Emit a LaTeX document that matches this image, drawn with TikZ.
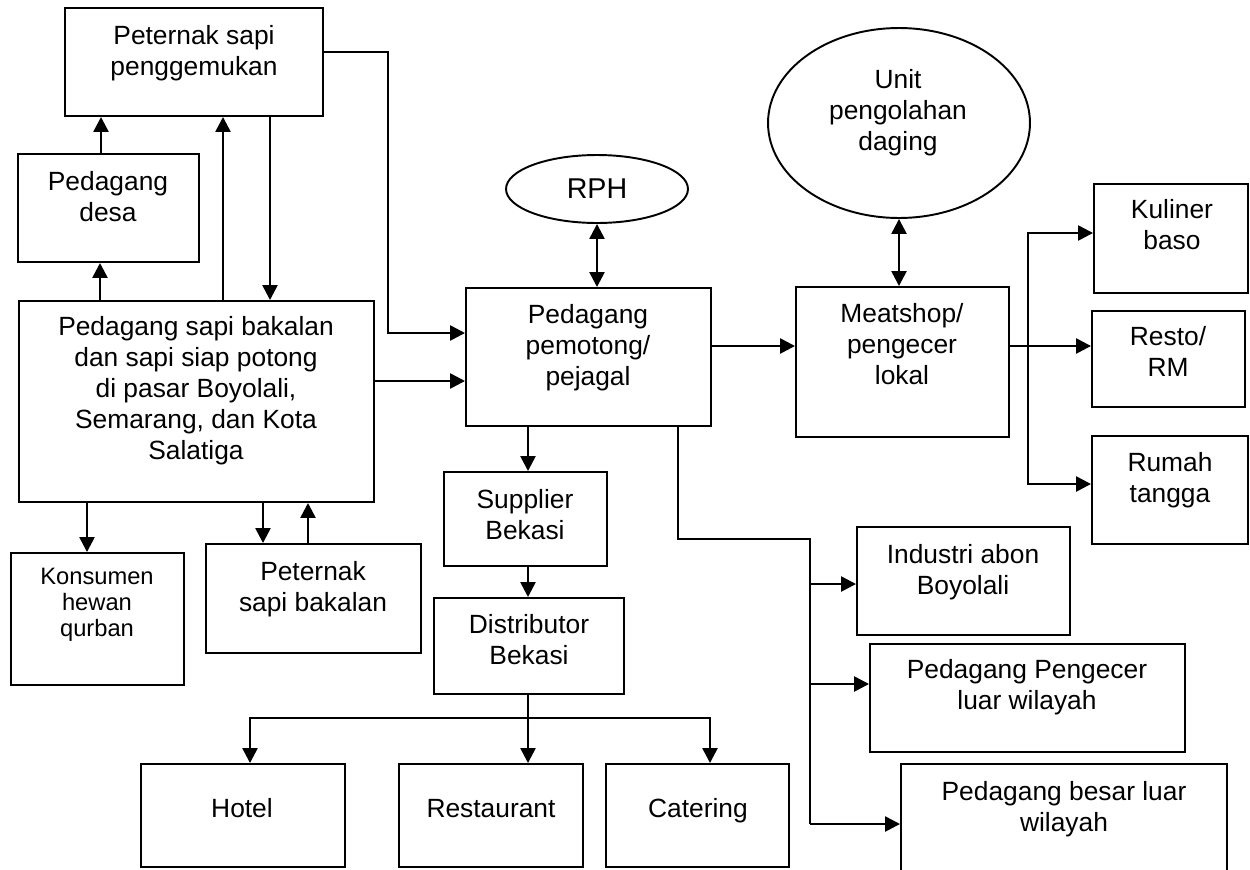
\documentclass[tikz,border=0pt]{standalone}
\usepackage{fontspec}
\setmainfont{Liberation Sans}
\usetikzlibrary{arrows.meta,fit,shapes.geometric}
\begin{document}
\begin{tikzpicture}[x=0.02cm,y=-0.02cm,
  box/.style={draw, line width=1.1pt, inner sep=0pt},
  oval/.style={draw, ellipse, line width=1.1pt, inner sep=0pt},
  txt/.style={align=center, inner sep=0pt, anchor=north, font=\fontsize{15}{17.6}\selectfont},
  small/.style={align=center, inner sep=0pt, anchor=north, font=\fontsize{13.5}{14.7}\selectfont},
  one/.style={inner sep=0pt, anchor=base, font=\fontsize{15}{17.6}\selectfont},
  ln/.style={line width=1.4pt},
  arr/.style={line width=1.4pt, -{Triangle[length=8.5pt,width=8.5pt]}},
  darr/.style={line width=1.4pt, {Triangle[length=8.5pt,width=8.5pt]}-{Triangle[length=8.5pt,width=8.5pt]}}]
\useasboundingbox (0,0) rectangle (1250,869);
\clip (0,0) rectangle (1250,869);

% boxes
\node[box, fit={(65,8) (323,116)}] (psp) {};
\node[box, fit={(18,154) (199,262)}] (pd) {};
\node[box, fit={(19,301) (374,502)}] (psb) {};
\node[box, fit={(11,553) (184,685)}] (khq) {};
\node[box, fit={(206,544) (421,653)}] (psbk) {};
\node[box, fit={(466,288) (711,426)}] (pp) {};
\node[oval, minimum width=3.64cm, minimum height=1.36cm] (rph) at (597,189) {};
\node[box, fit={(444,472) (607,566)}] (sup) {};
\node[box, fit={(434,598) (624,694)}] (dist) {};
\node[box, fit={(141,764) (345,867)}] (hotel) {};
\node[box, fit={(399,764) (583,867)}] (rest) {};
\node[box, fit={(606,764) (789,867)}] (cat) {};
\node[oval, minimum width=5.24cm, minimum height=3.8cm] (unit) at (899,123) {};
\node[box, fit={(796,287) (1009,437)}] (meat) {};
\node[box, fit={(1094,184) (1248,293)}] (kul) {};
\node[box, fit={(1092,311) (1245,407)}] (resto) {};
\node[box, fit={(1092,436) (1248,544)}] (rumah) {};
\node[box, fit={(857,527) (1070,635)}] (abon) {};
\node[box, fit={(870,644) (1185,752)}] (ecer) {};
\node[box, fit={(901,764) (1227,900)}] (besar) {};

% texts
\node[txt] (tpsp) at (194,25) {Peternak sapi\\penggemukan};
\node[txt] (tpd) at (108,171) {Pedagang\\desa};
\node[txt] (tpsb) at (196,316) {Pedagang sapi bakalan\\dan sapi siap potong\\di pasar Boyolali,\\Semarang, dan Kota\\Salatiga};
\node[small] (tkhq) at (97,568) {Konsumen\\hewan\\qurban};
\node[txt] (tpsbk) at (313,561) {Peternak\\sapi bakalan};
\node[txt] (tpp) at (588,304) {Pedagang\\pemotong/\\pejagal};
\node[inner sep=0pt, font=\fontsize{16.3}{19}\selectfont] (trph) at (rph.center) {RPH};
\node[txt] (tsup) at (525,489) {Supplier\\Bekasi};
\node[txt] (tdist) at (529,614) {Distributor\\Bekasi};
\node[one] (thotel) at (242,817) {Hotel};
\node[one] (trest) at (491,817) {Restaurant};
\node[one] (tcat) at (698,817) {Catering};
\node[txt] (tunit) at (898,69) {Unit\\pengolahan\\daging};
\node[txt] (tmeat) at (902,303) {Meatshop/\\pengecer\\lokal};
\node[txt] (tkul) at (1172,199) {Kuliner\\baso};
\node[txt] (tresto) at (1168,326) {Resto/\\RM};
\node[txt] (trumah) at (1170,452) {Rumah\\tangga};
\node[txt] (tabon) at (963,544) {Industri abon\\Boyolali};
\node[txt] (tecer) at (1027,659) {Pedagang Pengecer\\luar wilayah};
\node[txt] (tbesar) at (1064,781) {Pedagang besar luar\\wilayah};

% connectors, left part
\draw[arr] (pd.north -| 101,0) -- (psp.south -| 101,0);
\draw[arr] (psb.north -| 100,0) -- (pd.south -| 100,0);
\draw[arr] (psb.north -| 223,0) -- (psp.south -| 223,0);
\draw[arr] (psp.south -| 270,0) -- (psb.north -| 270,0);
\draw[arr] (psp.east |- 0,52) -| (388,333) -- (pp.west |- 0,333);
\draw[arr] (psb.east |- 0,381) -- (pp.west |- 0,381);
\draw[arr] (psb.south -| 87,0) -- (khq.north -| 87,0);
\draw[arr] (psb.south -| 263,0) -- (psbk.north -| 263,0);
\draw[arr] (psbk.north -| 308,0) -- (psb.south -| 308,0);

% centre
\draw[darr] (rph.south) -- (pp.north -| rph.south);
\draw[arr] (pp.south -| 528,0) -- (sup.north -| 528,0);
\draw[arr] (sup.south -| 528,0) -- (dist.north -| 528,0);
\draw[ln] (dist.south -| 528,0) -- (528,718);
\draw[arr] (528,718) -| (hotel.north -| 250,0);
\draw[arr] (528,718) -| (cat.north -| 710,0);
\draw[arr] (528,718) -- (rest.north -| 528,0);

% right part
\draw[arr] (pp.east |- 0,346) -- (meat.west |- 0,346);
\draw[darr] (unit.south) -- (meat.north -| unit.south);
\draw[arr] (meat.east |- 0,346) -- (resto.west |- 0,346);
\draw[arr] (1028,346) |- (kul.west |- 0,233);
\draw[arr] (1028,346) |- (rumah.west |- 0,484);

\draw[ln] (pp.south -| 678,0) |- (810,539) -- (810,824);
\draw[arr] (810,584) -- (abon.west |- 0,584);
\draw[arr] (810,684) -- (ecer.west |- 0,684);
\draw[arr] (810,824) -- (besar.west |- 0,824);
\end{tikzpicture}
\end{document}
